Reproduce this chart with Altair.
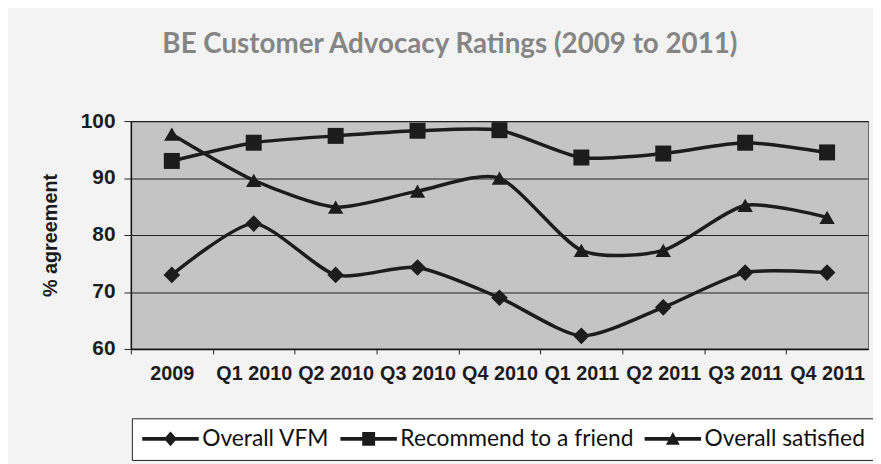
import altair as alt
import pandas as pd

periods = ["2009", "Q1 2010", "Q2 2010", "Q3 2010", "Q4 2010",
           "Q1 2011", "Q2 2011", "Q3 2011", "Q4 2011"]
vfm = [73, 82, 73, 74.3, 69, 62.3, 67.3, 73.4, 73.4]
recommend = [93, 96.2, 97.4, 98.3, 98.4, 93.6, 94.3, 96.2, 94.5]
satisfied = [97.7, 89.6, 84.9, 87.7, 90, 77.3, 77.3, 85.2, 83.1]
series_names = ["Overall VFM", "Recommend to a friend", "Overall satisfied"]
y_ticks = [60, 70, 80, 90, 100]

rows = []
for name, vals in zip(series_names, [vfm, recommend, satisfied]):
    for p, v in zip(periods, vals):
        rows.append({"period": p, "value": v, "series": name})
df = pd.DataFrame(rows)

INK = "#1c1c1c"
AX_FONT = "Liberation Sans"

x_enc = alt.X(
    "period:N", sort=periods,
    scale=alt.Scale(paddingInner=0, paddingOuter=0),
    axis=alt.Axis(title=None, labelAngle=0, labelFont=AX_FONT, labelFontWeight="bold",
                  labelFontSize=20, labelColor=INK, tickOffset=-41.33, labelOffset=41.33,
                  tickSize=5, tickColor="#222", labelPadding=10, domainColor="#111",
                  domainWidth=1.5, grid=False),
)
y_enc = alt.Y(
    "value:Q",
    scale=alt.Scale(domain=[60, 100], nice=False, zero=False),
    axis=alt.Axis(values=y_ticks, title="% agreement", titleFont=AX_FONT, titleFontSize=20,
                  titleFontWeight="bold", titleColor=INK, titlePadding=20,
                  labelFont=AX_FONT, labelFontWeight="bold", labelFontSize=21, labelColor=INK,
                  tickSize=7, tickColor="#222", labelPadding=9, domainColor="#111",
                  domainWidth=1.5, grid=True, gridColor="#222", gridWidth=1.2),
)

base = alt.Chart(df)

lines = base.mark_line(interpolate="cardinal", tension=0.3, strokeWidth=3.5, color=INK).encode(
    x=x_enc, y=y_enc, detail="series:N"
)

points = base.mark_point(filled=True, opacity=1, color=INK).encode(
    x=x_enc, y=y_enc,
    shape=alt.Shape("series:N", scale=alt.Scale(domain=series_names,
                    range=["diamond", "square", "triangle-up"]), legend=None),
    size=alt.Size("series:N", scale=alt.Scale(domain=series_names, range=[280, 240, 320]),
                  legend=None),
)

leg_paths = [
    "M-1,-0.2L4.7,-0.2L4.7,0.2L-1,0.2Z M1.85,-0.75L2.5,0L1.85,0.75L1.2,0Z",
    "M-1,-0.2L4.7,-0.2L4.7,0.2L-1,0.2Z M1.2,-0.7L2.5,-0.7L2.5,0.7L1.2,0.7Z",
    "M-1,-0.2L4.7,-0.2L4.7,0.2L-1,0.2Z M1.85,-0.7L2.55,0.6L1.15,0.6Z",
]

legend_layer = base.mark_point(filled=True, opacity=0, size=1, color=INK).encode(
    x=x_enc, y=y_enc,
    shape=alt.Shape("series:N", scale=alt.Scale(domain=series_names, range=leg_paths),
                    legend=alt.Legend(title=None, orient="none", legendX=1, legendY=300,
                                      direction="horizontal", padding=9,
                                      strokeColor="#222", fillColor="white",
                                      labelFont="Lato", labelFontSize=23, labelColor="#111",
                                      symbolSize=400, symbolOpacity=1,
                                      symbolFillColor=INK, symbolStrokeColor=INK,
                                      symbolStrokeWidth=0, labelOffset=39,
                                      columnPadding=9, labelLimit=400)),
)

chart = alt.layer(lines, points, legend_layer).resolve_scale(
    shape="independent", size="independent"
).resolve_legend(shape="independent", size="independent").properties(
    width=744, height=230,
    autosize=alt.AutoSizeParams(type="none"),
    padding={"left": 124, "top": 112, "right": 5, "bottom": 114},
    background="#f3f3f3",
    title=alt.TitleParams("BE Customer Advocacy Ratings (2009 to 2011)", font="Lato",
                          fontSize=28, fontWeight="bold", color="#858585",
                          anchor="middle", dx=-50, offset=52, frame="group"),
).configure_view(fill="#c4c4c4", stroke="#666", strokeWidth=1)

chart.save("out.html", embed_options={"renderer": "svg", "actions": False})
